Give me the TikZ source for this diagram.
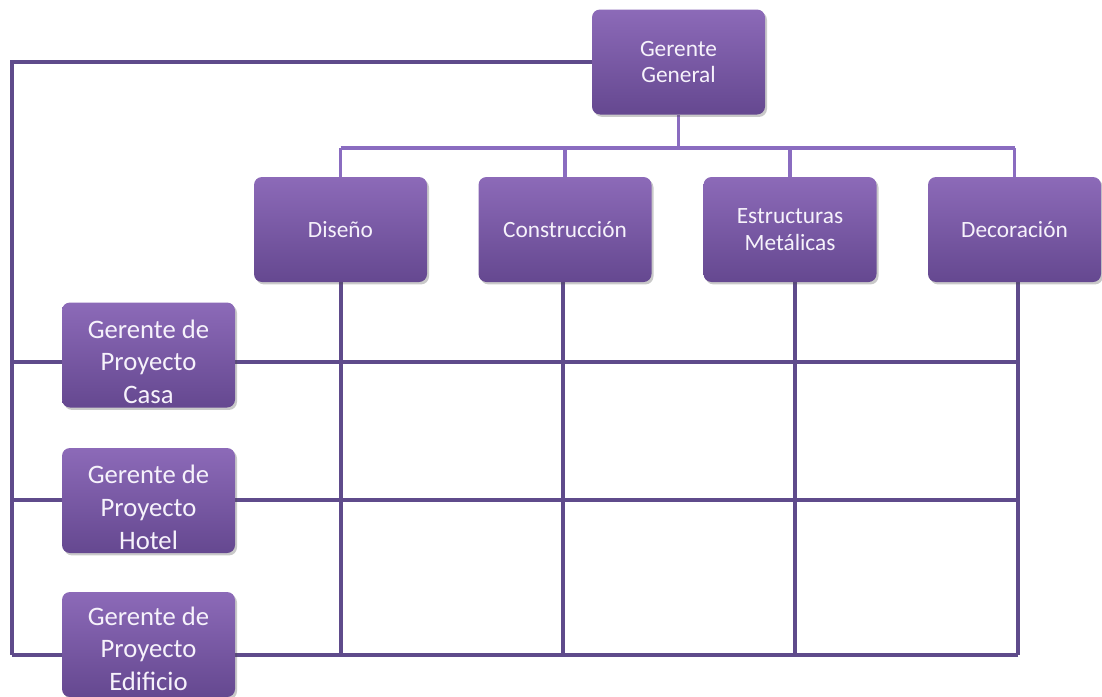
\documentclass[tikz,border=0pt]{standalone}
\usepackage{fontspec}
\setmainfont{Carlito}
\usetikzlibrary{shadows,backgrounds}
\definecolor{boxtop}{HTML}{8C6AB8}
\definecolor{boxbot}{HTML}{654890}
\definecolor{gridline}{HTML}{5F4B8B}
\definecolor{busline}{HTML}{8A6CC0}
\definecolor{boxtext}{HTML}{F6F2FB}
\begin{document}
\begin{tikzpicture}[x=0.75pt,y=-0.75pt,
  unitbox/.style={rectangle, rounded corners=6pt, minimum width=129.75pt,
    minimum height=78.75pt, inner sep=0pt, align=center,
    top color=boxtop, bottom color=boxbot, draw=none, text=boxtext,
    drop shadow={shadow xshift=1.5pt, shadow yshift=-1.8pt, opacity=0.3, fill=black!70}},
  boxlabel/.style={inner sep=0pt, align=center, text=boxtext},
  headtext/.style={font=\fontsize{17.5}{20}\selectfont},
  mgrtext/.style={font=\fontsize{20}{24.5}\selectfont},
  gridln/.style={draw=gridline, line width=2.4pt},
  busln/.style={draw=busline, line width=2.4pt}]

\useasboundingbox (0,0) rectangle (1102,696);

% units
\node[unitbox,headtext] (gg)   at (678.5,62)   {Gerente\\General};
\node[unitbox,headtext] (dis)  at (340.5,229.5) {Diseño};
\node[unitbox,headtext] (con)  at (565,229.5)   {Construcción};
\node[unitbox,headtext] (est)  at (790,229.5)   {Estructuras\\Metálicas};
\node[unitbox,headtext] (dec)  at (1014.5,229.5) {Decoración};

% project managers (box, then its label set a little low)
\node[unitbox] (casa)  at (148.5,355)   {};
\node[boxlabel,mgrtext] (casatxt) at ([yshift=-5pt]casa.center) {Gerente de\\Proyecto\\Casa};
\node[unitbox] (hotel) at (148.5,500.5) {};
\node[boxlabel,mgrtext] (hoteltxt) at ([yshift=-5pt]hotel.center) {Gerente de\\Proyecto\\Hotel};
\node[unitbox] (edif)  at (148.5,644.5) {};
\node[boxlabel,mgrtext] (ediftxt) at ([yshift=-3pt]edif.center) {Gerente de\\Proyecto\\Edificio};

% reference coordinates
\coordinate (corner) at (12,62);
\coordinate (busy) at (0,148);
\coordinate (rowA) at (0,362);
\coordinate (rowB) at (0,500);
\coordinate (rowC) at (0,655);
\coordinate (colA) at (341,0);
\coordinate (colB) at (563,0);
\coordinate (colC) at (795,0);
\coordinate (colD) at (1018,0);

\begin{scope}[on background layer]
  % general manager to units
  \draw[busln] (gg.south) -- (gg.south |- busy);
  \draw[busln] (dis.north |- busy) -- (dec.north |- busy);
  \foreach \u in {dis,con,est,dec}
    \draw[busln] (\u.north |- busy) -- (\u.north);
  % general manager to project managers
  \draw[gridln] (gg.west) -- (corner) -- (corner |- rowC);
  % matrix rows
  \foreach \r in {rowA,rowB,rowC}
    \draw[gridln] (corner |- \r) -- (colD |- \r);
  % matrix columns
  \draw[gridln] (dis.south -| colA) -- (colA |- rowC);
  \draw[gridln] (con.south -| colB) -- (colB |- rowC);
  \draw[gridln] (est.south -| colC) -- (colC |- rowC);
  \draw[gridln] (dec.south -| colD) -- (colD |- rowC);
\end{scope}
\end{tikzpicture}
\end{document}
